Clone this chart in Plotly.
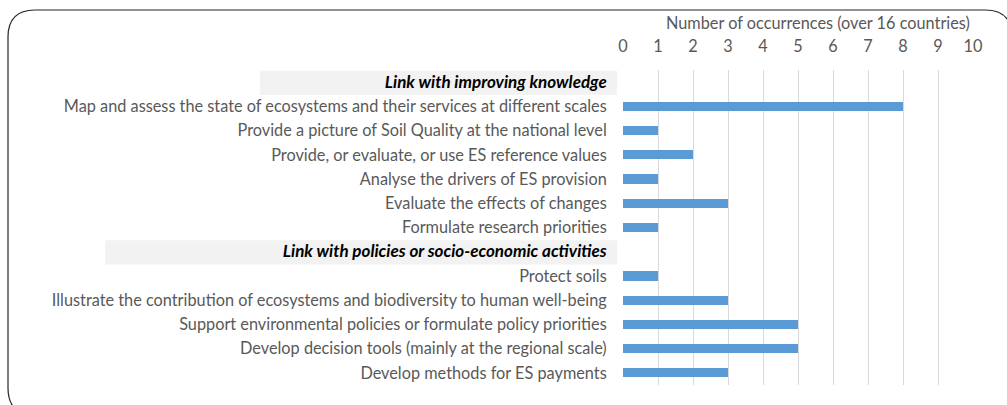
import plotly.graph_objects as go

# data
group_names = ["Link with improving knowledge",
               "Link with policies or socio-economic activities"]
knowledge_items = [
    "Map and assess the state of ecosystems and their services at different scales",
    "Provide a picture of Soil Quality at the national level",
    "Provide, or evaluate, or use ES reference values",
    "Analyse the drivers of ES provision",
    "Evaluate the effects of changes",
    "Formulate research priorities",
]
knowledge_counts = [8, 1, 2, 1, 3, 1]
policy_items = [
    "Protect soils",
    "Illustrate the contribution of ecosystems and biodiversity to human well-being",
    "Support environmental policies or formulate policy priorities",
    "Develop decision tools (mainly at the regional scale)",
    "Develop methods for ES payments",
]
policy_counts = [1, 3, 5, 5, 3]
x_ticks = list(range(0, 11))
axis_title = "Number of occurrences (over 16 countries)"

FONT = "Lato"
GREY = "#595959"
W, H = 1007, 405
L, R, T, B = 623, 34, 70, 20
pw, ph = W - L - R, H - T - B


def px_x(x):
    return (x - L) / pw


def px_y(y):
    return (H - B - y) / ph


# build rows: header row + items for each group
labels, values, header_rows = [], [], []
for name, items, counts in [(group_names[0], knowledge_items, knowledge_counts),
                            (group_names[1], policy_items, policy_counts)]:
    header_rows.append(len(labels))
    labels.append("<b><i><span style='color:black;font-size:17px'>%s</span></i></b>" % name)
    values.append(None)
    labels += items
    values += counts

ypos = list(range(len(labels)))

fig = go.Figure(go.Bar(
    x=values, y=ypos, orientation="h",
    marker=dict(color="#5b9bd5", line=dict(width=0)),
    width=0.38, hoverinfo="x",
))

shapes = []
# grey boxes behind group headers
box_left = [260, 105]
for row, left in zip(header_rows, box_left):
    shapes.append(dict(type="rect", xref="paper", yref="y",
                       x0=px_x(left), x1=px_x(617), y0=row - 0.47, y1=row + 0.53,
                       fillcolor="#f2f2f2", line=dict(width=0), layer="below"))

# rounded outer frame
fl, ft, fr, fb, rad = 8, 10, 1012, 415, 27
path = "M %f,%f L %f,%f Q %f,%f %f,%f L %f,%f Q %f,%f %f,%f L %f,%f Q %f,%f %f,%f L %f,%f Q %f,%f %f,%f Z" % (
    px_x(fl + rad), px_y(ft), px_x(fr - rad), px_y(ft),
    px_x(fr), px_y(ft), px_x(fr), px_y(ft + rad),
    px_x(fr), px_y(fb - rad),
    px_x(fr), px_y(fb), px_x(fr - rad), px_y(fb),
    px_x(fl + rad), px_y(fb),
    px_x(fl), px_y(fb), px_x(fl), px_y(fb - rad),
    px_x(fl), px_y(ft + rad),
    px_x(fl), px_y(ft), px_x(fl + rad), px_y(ft),
)
shapes.append(dict(type="path", xref="paper", yref="paper", path=path,
                   line=dict(color="#262626", width=1.2)))

fig.update_layout(
    width=W, height=H,
    margin=dict(l=L, r=R, t=T, b=B),
    paper_bgcolor="white", plot_bgcolor="white",
    showlegend=False,
    font=dict(family=FONT, size=16.3, color=GREY),
    shapes=shapes,
    bargap=0,
    xaxis=dict(side="top", range=[0, 10], tickvals=x_ticks,
               showgrid=True, gridcolor="#d9d9d9", gridwidth=1,
               zeroline=False, showline=False,
               ticks="outside", ticklen=10, tickcolor="rgba(0,0,0,0)",
               tickfont=dict(size=16.3, color=GREY)),
    yaxis=dict(range=[len(labels) - 0.5, -0.5], tickvals=ypos, ticktext=labels,
               showgrid=False, zeroline=False, showline=False,
               ticks="outside", ticklen=12, tickcolor="rgba(0,0,0,0)",
               tickfont=dict(size=16.3, color=GREY)),
    annotations=[dict(text=axis_title, xref="paper", yref="paper",
                      x=px_x(818), y=px_y(22), xanchor="center", yanchor="middle",
                      showarrow=False, font=dict(size=16.3, color=GREY))],
)

fig.write_html("out.html", config={"displayModeBar": False},
               post_script="document.body.style.margin='0';")
